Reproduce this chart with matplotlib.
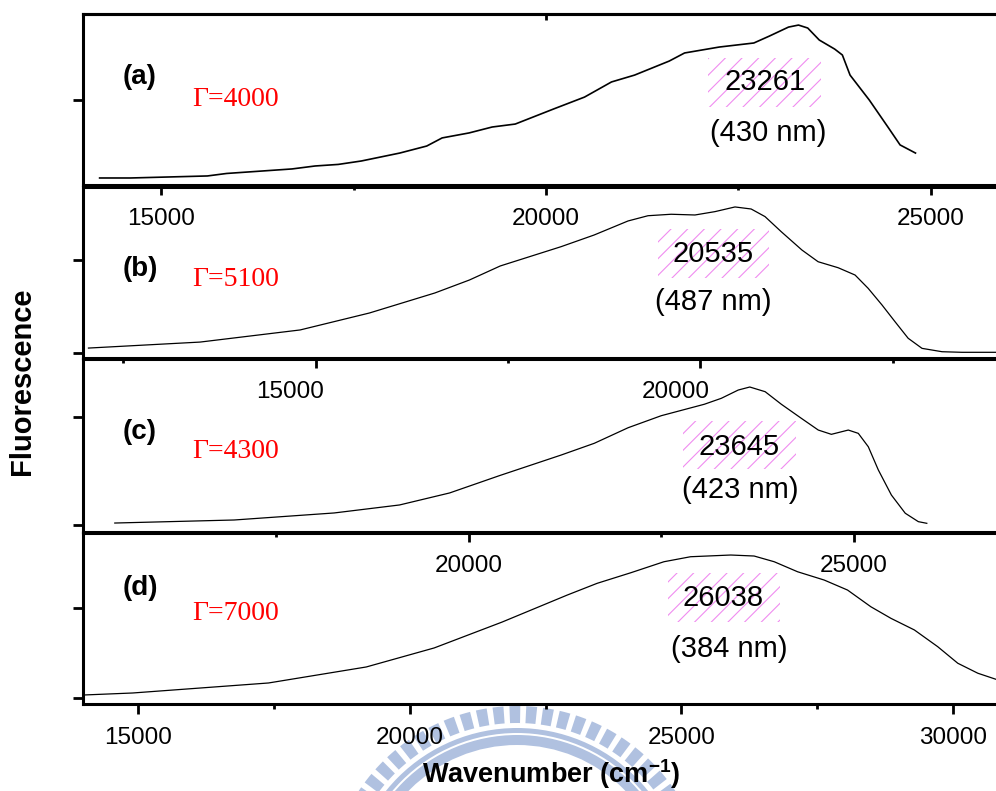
import numpy as np
import matplotlib
matplotlib.use("Agg")
import matplotlib.pyplot as plt
from matplotlib.patches import Rectangle, Wedge
from matplotlib.transforms import ScaledTranslation

plt.rcParams['font.family'] = ['Liberation Sans', 'DejaVu Sans']
plt.rcParams['mathtext.fontset'] = 'custom'
plt.rcParams['mathtext.rm'] = 'Liberation Sans:bold'
plt.rcParams['mathtext.bf'] = 'Liberation Sans:bold'
plt.rcParams['hatch.linewidth'] = 0.8

# ---- data (wavenumber in cm^-1, normalised fluorescence) ----
wn_a = [14200, 14600, 15600, 15850, 16700, 17000, 17300, 17600, 18100, 18450, 18650,
        19000, 19300, 19600, 20100, 20500, 20850, 21150, 21600, 21800, 22250, 22700,
        22900, 23150, 23280, 23400, 23550, 23750, 23850, 23950, 24200, 24450, 24600, 24800]
fl_a = [0.019, 0.019, 0.032, 0.048, 0.077, 0.096, 0.106, 0.128, 0.179, 0.224, 0.276,
        0.308, 0.346, 0.365, 0.462, 0.538, 0.635, 0.679, 0.769, 0.821, 0.859, 0.885,
        0.929, 0.987, 1.0, 0.981, 0.904, 0.846, 0.808, 0.679, 0.519, 0.340, 0.231, 0.179]

wn_b = [12050, 13500, 14800, 15700, 16550, 17000, 17400, 18190, 18620, 19060, 19320,
        19620, 19930, 20190, 20450, 20660, 20840, 21050, 21320, 21530, 21790, 22010,
        22180, 22360, 22530, 22700, 22880, 23140, 23400, 23850]
fl_b = [0.034, 0.075, 0.158, 0.274, 0.411, 0.5, 0.596, 0.728, 0.808, 0.904, 0.940,
        0.950, 0.945, 0.968, 1.0, 0.986, 0.934, 0.831, 0.705, 0.625, 0.584, 0.534,
        0.443, 0.329, 0.214, 0.101, 0.032, 0.009, 0.005, 0.005]

wn_c = [15400, 16950, 18250, 19100, 19750, 20400, 21200, 21630, 22070, 22500, 23060,
        23280, 23500, 23650, 23850, 24060, 24320, 24540, 24710, 24930, 25060, 25190,
        25320, 25490, 25670, 25840, 25950]
fl_c = [0.014, 0.036, 0.087, 0.145, 0.232, 0.358, 0.507, 0.592, 0.705, 0.792, 0.875,
        0.918, 0.978, 1.0, 0.966, 0.875, 0.773, 0.688, 0.657, 0.688, 0.664, 0.567,
        0.399, 0.217, 0.085, 0.024, 0.012]

wn_d = [14000, 14900, 17400, 19200, 20450, 21700, 22900, 23450, 24070, 24680, 25170,
        25910, 26340, 26710, 27140, 27630, 28060, 28490, 28860, 29290, 29720, 30090,
        30460, 30830]
fl_d = [0.021, 0.035, 0.105, 0.217, 0.350, 0.531, 0.720, 0.802, 0.876, 0.953, 0.988,
        1.0, 0.993, 0.953, 0.883, 0.825, 0.755, 0.638, 0.557, 0.476, 0.359, 0.243,
        0.173, 0.126]

panel_tags = ['(a)', '(b)', '(c)', '(d)']
gammas = [4000, 5100, 4300, 7000]
peak_wn = ['23261', '20535', '23645', '26038']
peak_nm = ['(430 nm)', '(487 nm)', '(423 nm)', '(384 nm)']

# ---- layout (pixels of the 996x791 picture) ----
W, H = 996, 791


def fx(x):
    return x / W


def fy(y):
    return 1 - y / H


panels = [
    # top, bottom, xlim, ylim, yticks, major, minor, label dx
    (14, 185, (13984, 25872), (-0.026, 1.071), [0.519],
     [15000, 20000, 25000], [17500, 22500], 0),
    (186.5, 358, (11979, 23867), (-0.034, 1.140), [0.0, 0.637],
     [15000, 20000], [12500, 17500, 22500], -25),
    (359, 532, (14987, 26875), (-0.051, 1.203), [0.0, 0.783],
     [20000, 25000], [17500, 22500], 0),
    (533, 704, (13985, 30830), (-0.042, 1.154), [0.0, 0.629],
     [15000, 20000, 25000, 30000], [17500, 22500, 27500], 0),
]
curves = [(wn_a, fl_a, 1.2), (wn_b, fl_b, 0.9), (wn_c, fl_c, 0.9), (wn_d, fl_d, 0.9)]

tag_y = [77, 269, 432, 588]
gam_y = [99, 280, 452, 613]
peak_txt = [((765, 82), (768, 133)), ((713, 254), (713, 302)),
            ((739, 447), (740, 490)), ((723, 598), (729, 649))]
boxes = [(708, 58, 821, 107), (658, 229, 769, 278),
         (683, 421, 796, 469), (668, 573, 780, 622)]

fig = plt.figure(figsize=(9.96, 7.91), dpi=100)

# faint logo watermark at the bottom
bg = fig.add_axes([0, 0, 1, 1], zorder=-5)
bg.set_xlim(0, W)
bg.set_ylim(H, 0)
bg.axis('off')
wm = '#b0c1e0'
for t in np.arange(181, 360, 5.1):
    bg.add_patch(Wedge((517, 896), 190, t, t + 3.3, width=17, color=wm, lw=0))
bg.add_patch(Wedge((517, 896), 168, 180, 360, width=5, color=wm, lw=0))
bg.add_patch(Wedge((517, 896), 161, 180, 360, width=10, color=wm, lw=0))

for i, (top, bot, xl, yl, yt, major, minor, dx) in enumerate(panels):
    ax = fig.add_axes([fx(83), fy(bot), 1.002 - fx(83), (bot - top) / H])
    ax.set_facecolor('none')
    wn, fl, lw = curves[i]
    ax.plot(wn, fl, color='black', lw=lw)
    ax.set_xlim(*xl)
    ax.set_ylim(*yl)
    ax.set_xticks(major)
    ax.set_xticks(minor, minor=True)
    ax.set_xticklabels([str(v) for v in major])
    ax.set_yticks(yt)
    ax.tick_params(axis='x', which='major', direction='out', length=7, width=2,
                   labelsize=17.5, pad=9.5)
    ax.tick_params(axis='x', which='minor', direction='out', length=3.5, width=2)
    ax.tick_params(axis='y', direction='out', length=7, width=2, labelleft=False)
    for s in ['left', 'top', 'bottom']:
        ax.spines[s].set_linewidth(2.2)
    ax.spines['right'].set_visible(False)
    if dx:
        off = ScaledTranslation(dx / 100, 0, fig.dpi_scale_trans)
        for lab in ax.xaxis.get_majorticklabels():
            lab.set_transform(lab.get_transform() + off)
    if i == 0:
        sec = ax.secondary_xaxis('top')
        sec.set_xticks([20000])
        sec.tick_params(direction='in', length=4, width=2, labeltop=False)
        sec.spines['top'].set_linewidth(2.2)

    fig.text(fx(123), fy(tag_y[i]), panel_tags[i], fontsize=20, fontweight='bold',
             ha='left', va='center')
    fig.text(fx(192), fy(gam_y[i]), '\u0393=%d' % gammas[i], color='red', fontsize=20,
             family=['Liberation Serif', 'DejaVu Serif'], ha='left', va='center')
    x0, y0, x1, y1 = boxes[i]
    fig.patches.append(Rectangle((fx(x0), fy(y1)), (x1 - x0) / W, (y1 - y0) / H,
                                 transform=fig.transFigure, figure=fig,
                                 facecolor='none', edgecolor='#f08cf0', lw=0,
                                 hatch='//'))
    (tx, ty), (nx, ny) = peak_txt[i]
    fig.text(fx(tx), fy(ty), peak_wn[i], fontsize=21, ha='center', va='center')
    fig.text(fx(nx), fy(ny), peak_nm[i], fontsize=21, ha='center', va='center')

fig.text(fx(22), fy(381), 'Fluorescence', rotation=90, fontsize=21,
         fontweight='bold', ha='center', va='center')
fig.text(fx(551), fy(774), r'Wavenumber (cm$^{\mathbf{-1}}$)', fontsize=19.5,
         fontweight='bold', ha='center', va='center')

fig.savefig('out.png', dpi=100)
